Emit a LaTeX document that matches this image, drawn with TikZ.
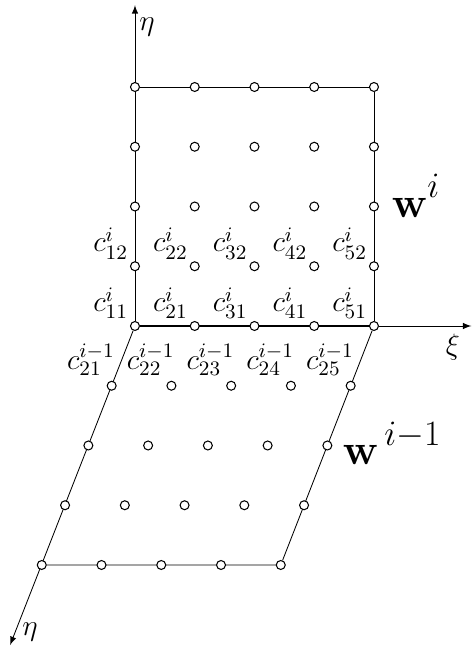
\documentclass[tikz,border=0pt]{standalone}
\usepackage{fix-cm}
\usetikzlibrary{positioning,backgrounds}
\tikzset{
  gridpt/.style={circle, draw, fill=white, inner sep=0pt, minimum size=0.15cm},
  clab/.style={inner sep=0pt, font=\fontsize{14}{17}\selectfont},
  wlab/.style={anchor=base west, inner sep=0pt, font=\fontsize{20.5}{24}\selectfont},
}
\newcommand{\wsup}[1]{\raisebox{2pt}{\fontsize{17}{17}\selectfont$#1$}}
\begin{document}
\begin{tikzpicture}[line width=0.5pt]
\useasboundingbox (-2.259,-5.406) rectangle (5.640,5.456);
% points of w^i
\foreach \i in {0,...,4}
  \foreach \j in {0,...,4}
    \node[gridpt] (u\i\j) at (\i,\j) {};
% points of w^{i-1}
\foreach \i in {0,...,4}
  \foreach \j in {1,...,4}
    \node[gridpt] (l\i\j) at ({\i-0.39*\j},-\j) {};
\coordinate (etatop) at (0,5.37);
\coordinate (xiend) at (5.63,0);
\coordinate (etabot) at (-2.09,-5.34);
\begin{scope}[on background layer]
\draw[-latex] (u00) -- (etatop);
\draw[-latex] (u40) -- (xiend);
\draw[-latex] (u00) -- (etabot);
\draw (u04) -- (u44) -- (u40);
\draw[line width=0.8pt] (u00) -- (u40);
\draw (u40) -- (l44) -- (l04);
\end{scope}
\node[clab] (etaA) at (0.2,5.0) {$\eta$};
\node[clab] (xi) at (5.32,-0.35) {$\xi$};
\node[clab] (etaB) at (-1.757,-5.12) {$\eta$};
\foreach \k [evaluate=\k as \m using int(\k-1)] in {1,...,5} {
  \node[clab, above left=0.05cm and 0.05cm of u\m0] (cA\k) {$c^i_{\k1}$};
  \node[clab, above left=0.05cm and 0.05cm of u\m1] (cB\k) {$c^i_{\k2}$};
  \node[clab, above left=0.1cm and -0.12cm of l\m1] (cC\k) {$c^{i-1}_{2\k}$};
}
\node[wlab] (wI) at (4.29,1.824) {$\mathbf{w}^{\wsup{i}}$};
\node[wlab] (wIm) at (3.47,-2.326) {$\mathbf{w}^{\wsup{\,i{-}1}}$};
\end{tikzpicture}
\end{document}
